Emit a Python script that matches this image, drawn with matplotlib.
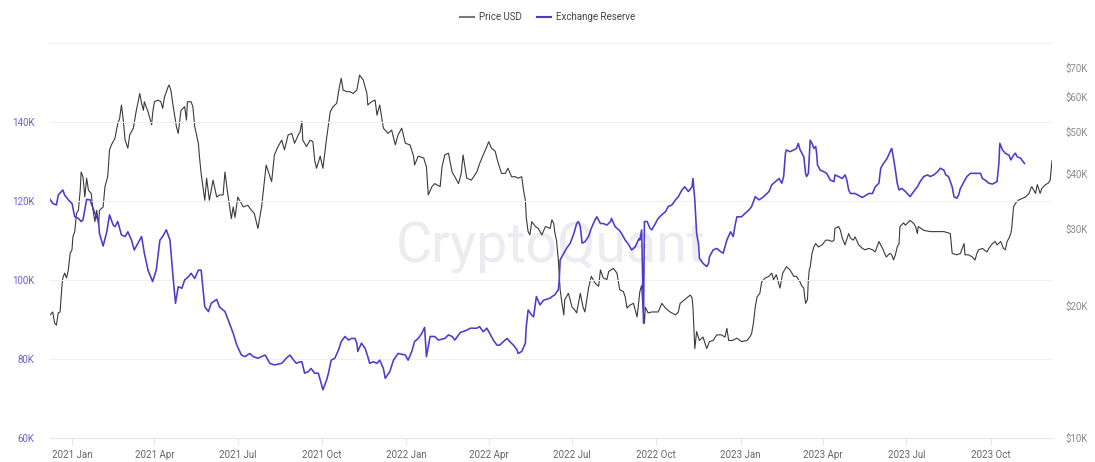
import pandas as pd
import numpy as np
import matplotlib
matplotlib.use('Agg')
import matplotlib.pyplot as plt
import matplotlib.dates as mdates
from matplotlib.lines import Line2D
from matplotlib.ticker import FixedLocator, FuncFormatter, NullLocator

plt.rcParams['font.family'] = ['Roboto', 'DejaVu Sans']

# BTC price, thousand USD
price_dates = [
    '2020-12-08', '2020-12-11', '2020-12-13', '2020-12-15', '2020-12-17', '2020-12-19', '2020-12-21', '2020-12-22',
    '2020-12-24', '2020-12-26', '2020-12-28', '2020-12-30', '2021-01-01', '2021-01-02', '2021-01-04', '2021-01-06',
    '2021-01-08', '2021-01-10', '2021-01-11', '2021-01-13', '2021-01-15', '2021-01-17', '2021-01-19', '2021-01-22',
    '2021-01-24', '2021-01-26', '2021-01-28', '2021-01-30', '2021-01-31', '2021-02-04', '2021-02-06', '2021-02-09',
    '2021-02-11', '2021-02-13', '2021-02-17', '2021-02-20', '2021-02-22', '2021-02-24', '2021-02-26', '2021-02-28',
    '2021-03-03', '2021-03-05', '2021-03-09', '2021-03-12', '2021-03-16', '2021-03-18', '2021-03-20', '2021-03-21',
    '2021-03-25', '2021-03-29', '2021-03-30', '2021-04-01', '2021-04-05', '2021-04-08', '2021-04-10', '2021-04-12',
    '2021-04-16', '2021-04-17', '2021-04-19', '2021-04-21', '2021-04-25', '2021-04-27', '2021-04-30', '2021-05-04',
    '2021-05-06', '2021-05-07', '2021-05-11', '2021-05-13', '2021-05-15', '2021-05-19', '2021-05-20', '2021-05-22',
    '2021-05-26', '2021-05-28', '2021-05-31', '2021-06-04', '2021-06-08', '2021-06-11', '2021-06-15', '2021-06-17',
    '2021-06-20', '2021-06-24', '2021-06-26', '2021-06-28', '2021-07-01', '2021-07-07', '2021-07-12', '2021-07-16',
    '2021-07-19', '2021-07-23', '2021-07-27', '2021-07-31', '2021-08-01', '2021-08-07', '2021-08-10', '2021-08-14',
    '2021-08-18', '2021-08-21', '2021-08-25', '2021-08-29', '2021-09-01', '2021-09-05', '2021-09-07', '2021-09-09',
    '2021-09-10', '2021-09-14', '2021-09-18', '2021-09-21', '2021-09-23', '2021-09-25', '2021-09-29', '2021-10-02',
    '2021-10-06', '2021-10-10', '2021-10-13', '2021-10-17', '2021-10-20', '2021-10-22', '2021-10-24', '2021-10-28',
    '2021-10-31', '2021-11-04', '2021-11-08', '2021-11-11', '2021-11-15', '2021-11-19', '2021-11-20', '2021-11-24',
    '2021-11-28', '2021-11-30', '2021-12-03', '2021-12-07', '2021-12-12', '2021-12-16', '2021-12-20', '2021-12-23',
    '2021-12-27', '2021-12-31', '2022-01-05', '2022-01-09', '2022-01-10', '2022-01-14', '2022-01-20', '2022-01-23',
    '2022-01-25', '2022-01-29', '2022-02-01', '2022-02-07', '2022-02-09', '2022-02-12', '2022-02-16', '2022-02-20',
    '2022-02-23', '2022-02-27', '2022-03-02', '2022-03-04', '2022-03-08', '2022-03-13', '2022-03-19', '2022-03-22',
    '2022-03-26', '2022-03-30', '2022-04-01', '2022-04-04', '2022-04-08', '2022-04-11', '2022-04-15', '2022-04-19',
    '2022-04-22', '2022-04-26', '2022-04-30', '2022-05-03', '2022-05-07', '2022-05-09', '2022-05-11', '2022-05-12',
    '2022-05-14', '2022-05-16', '2022-05-18', '2022-05-22', '2022-05-25', '2022-05-29', '2022-06-02', '2022-06-07',
    '2022-06-09', '2022-06-11', '2022-06-12', '2022-06-14', '2022-06-16', '2022-06-18', '2022-06-20', '2022-06-22',
    '2022-06-23', '2022-06-27', '2022-07-01', '2022-07-04', '2022-07-06', '2022-07-10', '2022-07-13', '2022-07-15',
    '2022-07-19', '2022-07-22', '2022-07-26', '2022-07-30', '2022-08-01', '2022-08-04', '2022-08-08', '2022-08-10',
    '2022-08-15', '2022-08-19', '2022-08-22', '2022-08-26', '2022-08-28', '2022-08-30', '2022-09-02', '2022-09-06',
    '2022-09-10', '2022-09-13', '2022-09-15', '2022-09-16', '2022-09-18', '2022-09-19', '2022-09-22', '2022-09-26',
    '2022-09-30', '2022-10-03', '2022-10-07', '2022-10-11', '2022-10-16', '2022-10-22', '2022-10-25', '2022-10-27',
    '2022-11-01', '2022-11-07', '2022-11-09', '2022-11-10', '2022-11-12', '2022-11-14', '2022-11-17', '2022-11-21',
    '2022-11-25', '2022-11-28', '2022-12-02', '2022-12-06', '2022-12-11', '2022-12-15', '2022-12-17', '2022-12-19',
    '2022-12-23', '2022-12-28', '2023-01-02', '2023-01-08', '2023-01-11', '2023-01-13', '2023-01-15', '2023-01-17',
    '2023-01-19', '2023-01-22', '2023-01-24', '2023-01-28', '2023-02-01', '2023-02-04', '2023-02-06', '2023-02-09',
    '2023-02-13', '2023-02-16', '2023-02-20', '2023-02-24', '2023-02-28', '2023-03-03', '2023-03-07', '2023-03-09',
    '2023-03-11', '2023-03-12', '2023-03-13', '2023-03-15', '2023-03-16', '2023-03-17', '2023-03-18', '2023-03-20',
    '2023-03-22', '2023-03-24', '2023-03-27', '2023-03-31', '2023-04-04', '2023-04-07', '2023-04-11', '2023-04-13',
    '2023-04-14', '2023-04-18', '2023-04-20', '2023-04-22', '2023-04-25', '2023-04-29', '2023-05-01', '2023-05-04',
    '2023-05-06', '2023-05-10', '2023-05-14', '2023-05-17', '2023-05-21', '2023-05-25', '2023-05-28', '2023-06-01',
    '2023-06-05', '2023-06-09', '2023-06-13', '2023-06-15', '2023-06-17', '2023-06-19', '2023-06-21', '2023-06-23',
    '2023-06-24', '2023-06-28', '2023-06-30', '2023-07-05', '2023-07-09', '2023-07-11', '2023-07-13', '2023-07-14',
    '2023-07-20', '2023-07-27', '2023-08-04', '2023-08-11', '2023-08-18', '2023-08-20', '2023-08-25', '2023-08-29',
    '2023-09-02', '2023-09-03', '2023-09-07', '2023-09-11', '2023-09-14', '2023-09-16', '2023-09-18', '2023-09-22',
    '2023-09-27', '2023-09-29', '2023-10-03', '2023-10-06', '2023-10-08', '2023-10-12', '2023-10-15', '2023-10-17',
    '2023-10-19', '2023-10-21', '2023-10-23', '2023-10-24', '2023-10-26', '2023-10-28', '2023-10-31', '2023-11-04',
    '2023-11-08', '2023-11-12', '2023-11-14', '2023-11-15', '2023-11-17', '2023-11-19', '2023-11-21', '2023-11-24',
    '2023-11-26', '2023-11-30', '2023-12-03', '2023-12-05', '2023-12-07',
]
price_k = [
    19.1, 19.4, 18.3, 18.1, 19.3, 19.4, 22.2, 23.2, 23.8, 23.2, 24.2, 26.4, 26.9, 28.8, 29.6, 32.6,
    33.1, 36.8, 40.5, 39.5, 35.5, 39.2, 36.8, 36.2, 33.1, 31.2, 33.1, 30.7, 33.1, 33.7, 37.5, 39.5,
    45.5, 46.7, 48.4, 52.3, 53.6, 57.6, 53.2, 47.9, 45.9, 49.2, 51.0, 55.6, 61.2, 58.1, 56.0, 58.6,
    55.6, 51.9, 55.1, 58.6, 59.1, 58.6, 56.6, 60.1, 63.4, 64.0, 62.3, 58.1, 51.4, 49.6, 56.0, 57.1,
    53.2, 58.6, 58.6, 57.1, 51.4, 47.1, 44.3, 40.2, 34.9, 39.2, 34.9, 38.8, 35.5, 35.9, 35.9, 40.5,
    36.2, 31.7, 33.7, 31.9, 35.5, 33.7, 34.0, 33.1, 32.6, 30.1, 33.7, 40.2, 42.0, 38.5, 44.3, 46.3,
    47.9, 45.5, 49.2, 49.6, 47.1, 49.2, 50.0, 52.9, 47.9, 46.3, 47.9, 47.5, 43.1, 41.3, 44.0, 41.3,
    48.4, 55.6, 57.1, 58.1, 63.4, 66.3, 62.3, 61.8, 61.8, 61.2, 62.3, 67.4, 65.7, 61.2, 57.6, 58.6,
    59.1, 54.6, 57.6, 51.0, 49.6, 50.5, 46.7, 49.2, 51.0, 47.1, 46.7, 44.0, 42.0, 44.0, 43.6, 41.6,
    35.9, 37.5, 38.1, 37.5, 41.6, 44.3, 44.7, 40.5, 39.5, 38.1, 40.2, 44.3, 39.2, 38.8, 40.5, 42.3,
    44.3, 46.3, 47.5, 45.9, 45.2, 42.7, 40.2, 40.2, 41.3, 39.5, 39.5, 39.2, 39.5, 36.8, 34.9, 31.9,
    29.6, 29.1, 31.2, 30.4, 30.1, 29.1, 30.4, 30.1, 31.5, 30.9, 29.6, 28.3, 25.5, 21.8, 20.3, 19.1,
    20.7, 21.4, 19.9, 19.6, 19.3, 21.4, 19.9, 19.4, 22.0, 23.4, 22.6, 22.2, 24.2, 23.2, 23.0, 24.0,
    24.4, 23.8, 21.8, 21.6, 21.0, 19.8, 20.1, 20.3, 18.9, 21.6, 22.3, 20.3, 18.3, 19.9, 19.3, 19.4,
    19.4, 19.4, 20.3, 19.8, 19.4, 19.1, 19.4, 20.3, 20.7, 21.2, 20.9, 19.9, 16.0, 17.5, 16.7, 17.0,
    16.0, 16.6, 16.7, 17.2, 17.2, 17.0, 17.8, 16.7, 16.7, 16.9, 16.6, 16.7, 17.0, 17.3, 18.3, 19.9,
    21.0, 21.4, 22.7, 23.2, 23.4, 23.8, 23.0, 23.6, 22.0, 23.8, 24.6, 24.2, 23.4, 23.4, 22.7, 22.2,
    22.0, 21.0, 20.3, 20.7, 23.0, 24.2, 24.6, 26.4, 27.3, 27.8, 27.3, 27.6, 28.3, 28.3, 28.1, 28.3,
    30.1, 30.4, 29.8, 28.6, 27.6, 29.3, 28.6, 28.3, 28.8, 27.6, 27.1, 26.9, 27.1, 26.9, 26.6, 28.1,
    27.1, 25.9, 26.4, 26.2, 25.5, 26.2, 27.3, 27.8, 30.4, 31.0, 30.6, 31.4, 30.9, 30.4, 29.3, 30.4,
    29.8, 29.6, 29.6, 29.6, 29.3, 26.4, 26.2, 26.4, 27.8, 26.2, 26.2, 25.9, 25.5, 26.4, 26.9, 27.1,
    26.6, 27.1, 27.8, 28.1, 27.6, 28.1, 27.1, 26.9, 28.1, 28.6, 29.3, 30.1, 33.7, 34.3, 34.9, 35.2,
    35.5, 36.2, 37.2, 37.5, 36.8, 36.2, 37.9, 36.2, 37.2, 37.9, 38.2, 38.8, 43.0,
]

# BTC held on exchanges, thousand BTC
reserve_dates = [
    '2020-12-08', '2020-12-11', '2020-12-15', '2020-12-17', '2020-12-22', '2020-12-24', '2020-12-28', '2021-01-01',
    '2021-01-04', '2021-01-08', '2021-01-11', '2021-01-13', '2021-01-17', '2021-01-21', '2021-01-22', '2021-01-26',
    '2021-01-30', '2021-01-31', '2021-02-04', '2021-02-08', '2021-02-11', '2021-02-15', '2021-02-17', '2021-02-20',
    '2021-02-24', '2021-02-28', '2021-03-03', '2021-03-07', '2021-03-10', '2021-03-14', '2021-03-18', '2021-03-21',
    '2021-03-25', '2021-03-30', '2021-04-03', '2021-04-07', '2021-04-10', '2021-04-14', '2021-04-18', '2021-04-21',
    '2021-04-24', '2021-04-27', '2021-05-01', '2021-05-04', '2021-05-08', '2021-05-11', '2021-05-15', '2021-05-19',
    '2021-05-22', '2021-05-26', '2021-05-30', '2021-06-02', '2021-06-08', '2021-06-11', '2021-06-17', '2021-06-22',
    '2021-06-26', '2021-06-30', '2021-07-05', '2021-07-09', '2021-07-14', '2021-07-18', '2021-07-23', '2021-07-31',
    '2021-08-05', '2021-08-10', '2021-08-18', '2021-08-23', '2021-08-27', '2021-08-31', '2021-09-03', '2021-09-07',
    '2021-09-09', '2021-09-12', '2021-09-16', '2021-09-19', '2021-09-23', '2021-09-27', '2021-09-29', '2021-10-02',
    '2021-10-06', '2021-10-08', '2021-10-11', '2021-10-15', '2021-10-19', '2021-10-22', '2021-10-26', '2021-10-30',
    '2021-11-02', '2021-11-06', '2021-11-08', '2021-11-09', '2021-11-13', '2021-11-17', '2021-11-20', '2021-11-22',
    '2021-11-26', '2021-11-30', '2021-12-03', '2021-12-07', '2021-12-09', '2021-12-14', '2021-12-18', '2021-12-23',
    '2021-12-31', '2022-01-03', '2022-01-07', '2022-01-10', '2022-01-14', '2022-01-18', '2022-01-21', '2022-01-23',
    '2022-01-27', '2022-02-01', '2022-02-05', '2022-02-12', '2022-02-16', '2022-02-20', '2022-02-23', '2022-03-01',
    '2022-03-08', '2022-03-12', '2022-03-19', '2022-03-22', '2022-03-26', '2022-03-30', '2022-04-02', '2022-04-06',
    '2022-04-10', '2022-04-13', '2022-04-17', '2022-04-21', '2022-04-24', '2022-04-28', '2022-05-02', '2022-05-03',
    '2022-05-07', '2022-05-11', '2022-05-12', '2022-05-14', '2022-05-18', '2022-05-20', '2022-05-22', '2022-05-23',
    '2022-05-27', '2022-05-31', '2022-06-07', '2022-06-09', '2022-06-12', '2022-06-16', '2022-06-17', '2022-06-18',
    '2022-06-22', '2022-06-25', '2022-06-29', '2022-07-03', '2022-07-06', '2022-07-08', '2022-07-10', '2022-07-12',
    '2022-07-15', '2022-07-19', '2022-07-22', '2022-07-26', '2022-07-28', '2022-08-01', '2022-08-04', '2022-08-08',
    '2022-08-12', '2022-08-13', '2022-08-17', '2022-08-21', '2022-08-24', '2022-08-28', '2022-09-01', '2022-09-04',
    '2022-09-08', '2022-09-12', '2022-09-13', '2022-09-15', '2022-09-17', '2022-09-18', '2022-09-21', '2022-09-24',
    '2022-09-26', '2022-09-30', '2022-10-03', '2022-10-07', '2022-10-11', '2022-10-14', '2022-10-18', '2022-10-22',
    '2022-10-25', '2022-10-29', '2022-11-01', '2022-11-05', '2022-11-09', '2022-11-10', '2022-11-12', '2022-11-14',
    '2022-11-16', '2022-11-17', '2022-11-21', '2022-11-25', '2022-11-27', '2022-11-28', '2022-12-02', '2022-12-06',
    '2022-12-10', '2022-12-13', '2022-12-17', '2022-12-21', '2022-12-24', '2022-12-26', '2022-12-28', '2023-01-02',
    '2023-01-06', '2023-01-10', '2023-01-13', '2023-01-17', '2023-01-21', '2023-01-24', '2023-01-28', '2023-02-01',
    '2023-02-04', '2023-02-08', '2023-02-12', '2023-02-15', '2023-02-17', '2023-02-19', '2023-02-20', '2023-02-24',
    '2023-02-28', '2023-03-03', '2023-03-05', '2023-03-07', '2023-03-09', '2023-03-11', '2023-03-13', '2023-03-14',
    '2023-03-16', '2023-03-18', '2023-03-20', '2023-03-22', '2023-03-24', '2023-03-25', '2023-03-26', '2023-03-29',
    '2023-04-02', '2023-04-05', '2023-04-09', '2023-04-13', '2023-04-14', '2023-04-18', '2023-04-22', '2023-04-25',
    '2023-04-27', '2023-04-29', '2023-05-01', '2023-05-06', '2023-05-14', '2023-05-21', '2023-05-25', '2023-05-28',
    '2023-06-01', '2023-06-03', '2023-06-06', '2023-06-10', '2023-06-14', '2023-06-15', '2023-06-17', '2023-06-19',
    '2023-06-21', '2023-06-23', '2023-06-26', '2023-06-30', '2023-07-05', '2023-07-09', '2023-07-13', '2023-07-16',
    '2023-07-20', '2023-07-24', '2023-07-27', '2023-07-31', '2023-08-04', '2023-08-07', '2023-08-11', '2023-08-13',
    '2023-08-16', '2023-08-20', '2023-08-22', '2023-08-25', '2023-08-27', '2023-08-29', '2023-09-02', '2023-09-05',
    '2023-09-09', '2023-09-16', '2023-09-20', '2023-09-22', '2023-09-25', '2023-09-29', '2023-10-03', '2023-10-08',
    '2023-10-10', '2023-10-11', '2023-10-14', '2023-10-17', '2023-10-21', '2023-10-23', '2023-10-26', '2023-10-28',
    '2023-10-30', '2023-11-03', '2023-11-04', '2023-11-07',
]
reserve_k = [
    120.4, 119.4, 119.0, 121.5, 122.8, 121.5, 120.3, 119.4, 116.0, 115.6, 114.8, 115.2, 120.4, 120.3, 119.4, 116.9,
    114.8, 111.8, 108.6, 112.2, 116.5, 113.9, 113.5, 114.8, 111.4, 111.0, 112.2, 110.1, 107.6, 109.3, 111.0, 106.8,
    102.5, 99.6, 102.5, 110.1, 111.0, 112.7, 110.1, 101.7, 94.1, 98.3, 97.9, 100.0, 100.8, 101.7, 100.4, 102.5,
    102.5, 93.2, 92.0, 94.1, 95.1, 93.2, 92.0, 89.0, 86.5, 83.5, 81.0, 80.6, 81.4, 80.6, 80.2, 81.0,
    78.9, 78.5, 78.9, 80.2, 81.0, 79.7, 78.9, 79.3, 79.3, 76.4, 76.8, 77.6, 76.4, 76.4, 74.7, 72.2,
    74.7, 76.4, 79.7, 80.2, 82.3, 84.4, 85.7, 84.8, 85.2, 85.2, 84.0, 81.9, 84.0, 82.7, 80.6, 78.9,
    79.3, 78.9, 79.7, 77.6, 75.1, 76.8, 79.7, 81.4, 81.0, 79.7, 81.9, 84.4, 85.2, 86.5, 88.0, 80.6,
    85.7, 85.7, 84.8, 85.2, 86.1, 85.7, 84.8, 86.7, 87.3, 87.8, 87.8, 88.2, 86.9, 87.8, 86.5, 84.8,
    83.5, 83.5, 84.4, 85.2, 84.4, 83.5, 82.3, 81.4, 81.9, 84.0, 88.2, 92.4, 91.1, 90.7, 94.1, 95.8,
    93.7, 94.9, 95.4, 95.8, 96.2, 97.5, 100.0, 105.1, 106.8, 108.0, 109.3, 111.8, 114.3, 114.8, 113.5, 109.3,
    109.7, 111.0, 113.1, 115.2, 116.0, 114.3, 114.3, 113.9, 114.8, 115.6, 113.5, 112.7, 111.8, 110.1, 108.9, 107.6,
    108.4, 110.5, 110.1, 112.7, 89.0, 114.8, 114.8, 113.1, 112.7, 114.3, 115.6, 116.5, 117.3, 118.6, 119.0, 120.3,
    121.1, 122.8, 123.6, 122.4, 123.6, 125.7, 120.3, 111.8, 109.3, 105.5, 104.2, 103.4, 104.2, 105.9, 107.6, 108.0,
    107.2, 106.8, 110.1, 112.2, 111.0, 113.9, 116.0, 116.0, 116.9, 117.7, 118.6, 121.1, 120.3, 120.7, 121.5, 122.4,
    124.1, 124.9, 125.7, 124.5, 126.2, 132.1, 132.9, 132.5, 132.9, 133.3, 134.6, 132.9, 132.1, 131.2, 127.0, 126.2,
    127.0, 135.4, 134.6, 133.3, 133.8, 132.1, 129.1, 127.8, 127.4, 127.0, 125.3, 124.9, 126.6, 126.2, 125.7, 126.6,
    125.3, 122.8, 121.9, 121.9, 120.9, 121.9, 121.9, 123.6, 124.5, 128.3, 129.5, 130.8, 132.9, 133.3, 130.8, 127.8,
    124.5, 122.8, 123.2, 122.4, 121.1, 122.4, 123.6, 124.9, 126.2, 126.6, 126.2, 126.6, 127.4, 128.3, 127.8, 126.6,
    126.2, 123.6, 121.1, 120.7, 121.5, 123.2, 124.9, 126.2, 127.0, 127.0, 127.0, 125.7, 125.3, 124.5, 124.3, 124.9,
    129.5, 134.6, 132.9, 132.1, 131.6, 130.4, 131.6, 132.1, 131.2, 130.8, 130.4, 129.5,
]

reserve_ticks = [60, 80, 100, 120, 140, 160]
price_ticks = [10, 20, 30, 40, 50, 60, 70]

purple = '#4b3bcf'
price_color = '#3a3a3a'

W, H = 1095, 462
fig = plt.figure(figsize=(W / 100, H / 100), dpi=100)
ax = fig.add_axes([50 / W, 1 - 438 / H, (1052 - 50) / W, (438 - 43) / H])
ax2 = ax.twinx()

# reserve axis drawn above the price axis
ax.set_zorder(2)
ax.patch.set_visible(False)
ax2.set_zorder(1)

pd_price = pd.to_datetime(price_dates)
pd_res = pd.to_datetime(reserve_dates)

ax2.plot(pd_price, price_k, color=price_color, lw=0.8, zorder=3)
ax2.set_yscale('log')
ax2.set_ylim(10, 79.8)
ax2.yaxis.set_major_locator(FixedLocator(price_ticks))
ax2.yaxis.set_minor_locator(NullLocator())
ax2.yaxis.set_major_formatter(FuncFormatter(lambda v, p: f'${v:.0f}K'))
ax2.tick_params(axis='y', length=0, pad=10, labelsize=7, labelcolor='#8a8a8a')

ax.plot(pd_res, reserve_k, color=purple, lw=1.15, zorder=3)
ax.set_ylim(60, 160)
ax.set_yticks(reserve_ticks)
ax.set_yticklabels([f'{t}K' if t < 160 else '' for t in reserve_ticks])
ax.tick_params(axis='y', length=0, pad=11, labelsize=7, labelcolor='#6a5fd0')
ax.grid(axis='y', color='#f0f0f0', lw=0.8)

ax.set_xlim(pd_price.min(), pd_price.max())
ax.xaxis.set_major_locator(mdates.MonthLocator(bymonth=[1, 4, 7, 10]))
ax.xaxis.set_major_formatter(mdates.DateFormatter('%Y %b'))
ax.tick_params(axis='x', length=5, width=0.8, color='#e6e6e6', pad=4, labelsize=7, labelcolor='#666666')

for a in (ax, ax2):
    for side in ('top', 'left', 'right', 'bottom'):
        a.spines[side].set_visible(False)
ax.spines['bottom'].set_visible(True)
ax.spines['bottom'].set_color('#e6e6e6')

# watermark
ax2.text(0.5, (438 - 248) / 395, 'CryptoQuant', transform=ax2.transAxes, ha='center', va='center',
         fontsize=40, color='#ebebf2', zorder=0)

handles = [Line2D([], [], color='#777777', lw=1.5), Line2D([], [], color=purple, lw=1.5)]
fig.legend(handles, ['Price USD', 'Exchange Reserve'], loc='center', bbox_to_anchor=(0.5, 1 - 17 / H),
           ncol=2, frameon=False, fontsize=7, handlelength=1.4, columnspacing=1.6, handletextpad=0.5,
           labelcolor='#444444')

fig.savefig('out.png', dpi=100)
